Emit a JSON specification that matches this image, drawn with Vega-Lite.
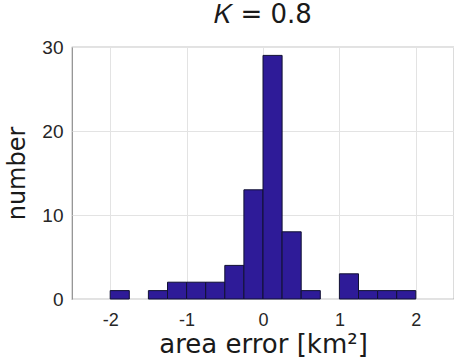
{
  "$schema": "https://vega.github.io/schema/vega-lite/v6.json",
  "width": 382,
  "height": 252,
  "autosize": {"type": "none"},
  "padding": {"left": 72, "top": 47, "right": 0, "bottom": 59},
  "background": "white",
  "title": {
    "text": "𝐾 = 0.8",
    "font": "DejaVu Sans",
    "fontSize": 26,
    "fontWeight": "normal",
    "color": "#1a1a1a",
    "offset": 10,
    "anchor": "middle"
  },
  "config": {
    "view": {"stroke": "#8c8c8c", "strokeWidth": 1.2},
    "axis": {
      "domain": false,
      "ticks": false,
      "grid": true,
      "gridColor": "#e3e3e3",
      "gridWidth": 1,
      "labelFont": "Liberation Sans",
      "labelColor": "#262626",
      "titleFont": "DejaVu Sans",
      "titleFontWeight": "normal",
      "titleColor": "#1a1a1a"
    }
  },
  "data": {
    "values": [
      {"bin_start": -2.0, "bin_end": -1.75, "count": 1},
      {"bin_start": -1.5, "bin_end": -1.25, "count": 1},
      {"bin_start": -1.25, "bin_end": -1.0, "count": 2},
      {"bin_start": -1.0, "bin_end": -0.75, "count": 2},
      {"bin_start": -0.75, "bin_end": -0.5, "count": 2},
      {"bin_start": -0.5, "bin_end": -0.25, "count": 4},
      {"bin_start": -0.25, "bin_end": 0.0, "count": 13},
      {"bin_start": 0.0, "bin_end": 0.25, "count": 29},
      {"bin_start": 0.25, "bin_end": 0.5, "count": 8},
      {"bin_start": 0.5, "bin_end": 0.75, "count": 1},
      {"bin_start": 1.0, "bin_end": 1.25, "count": 3},
      {"bin_start": 1.25, "bin_end": 1.5, "count": 1},
      {"bin_start": 1.5, "bin_end": 1.75, "count": 1},
      {"bin_start": 1.75, "bin_end": 2.0, "count": 1}
    ]
  },
  "mark": {"type": "bar", "fill": "#2e1b98", "stroke": "#111133", "strokeWidth": 1},
  "encoding": {
    "x": {
      "field": "bin_start",
      "type": "quantitative",
      "scale": {"domain": [-2.5, 2.5], "nice": false, "zero": false},
      "axis": {
        "values": [-2, -1, 0, 1, 2],
        "labelExpr": "replace(datum.label, '−', '-')",
        "title": "area error [km²]",
        "titleFontSize": 26,
        "titlePadding": 2,
        "labelFontSize": 18,
        "labelPadding": 12
      }
    },
    "x2": {"field": "bin_end"},
    "y": {
      "field": "count",
      "type": "quantitative",
      "scale": {"domain": [0, 30], "nice": false},
      "axis": {
        "values": [0, 10, 20, 30],
        "title": "number",
        "titleFontSize": 24,
        "titlePadding": 12,
        "labelFontSize": 19,
        "labelPadding": 9
      }
    },
    "y2": {"datum": 0}
  }
}
